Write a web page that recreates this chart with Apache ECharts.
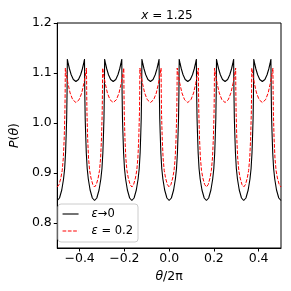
<!DOCTYPE html>
<html>
<head>
<meta charset="utf-8">
<script src="https://cdn.jsdelivr.net/npm/echarts@6/dist/echarts.min.js"></script>
<style>html,body{margin:0;padding:0;background:#fff}#c{width:291px;height:291px}</style>
</head>
<body>
<div id="c"></div>
<script>
// theta/2pi values and P(theta) for epsilon -> 0 (black)
const blackX = [
-0.5,-0.49,-0.48,-0.472,-0.467,-0.463,-0.46,-0.458,-0.4563,-0.455,-0.4512,-0.4454,-0.4378,-0.4282,-0.4167,-0.4052,-0.3956,-0.388,-0.3822,-0.3784,-0.377,-0.3753,-0.3733,-0.3703,-0.3663,-0.3613,-0.3533,-0.3433,
-0.3333,-0.3233,-0.3133,-0.3053,-0.3003,-0.2963,-0.2933,-0.2913,-0.2896,-0.2883,-0.2845,-0.2787,-0.2711,-0.2615,-0.25,-0.2385,-0.2289,-0.2213,-0.2155,-0.2117,-0.2103,-0.2086,-0.2066,-0.2036,-0.1996,-0.1946,-0.1866,-0.1766,
-0.1667,-0.1567,-0.1467,-0.1387,-0.1337,-0.1297,-0.1267,-0.1247,-0.123,-0.1217,-0.1179,-0.1121,-0.1045,-0.0949,-0.0834,-0.0719,-0.0623,-0.0547,-0.0489,-0.0451,-0.0437,-0.042,-0.04,-0.037,-0.033,-0.028,-0.02,-0.01,
0,0.01,0.02,0.028,0.033,0.037,0.04,0.042,0.0437,0.045,0.0488,0.0546,0.0622,0.0718,0.0833,0.0948,0.1044,0.112,0.1178,0.1216,0.123,0.1247,0.1267,0.1297,0.1337,0.1387,0.1467,0.1567,
0.1667,0.1767,0.1867,0.1947,0.1997,0.2037,0.2067,0.2087,0.2104,0.2117,0.2155,0.2213,0.2289,0.2385,0.25,0.2615,0.2711,0.2787,0.2845,0.2883,0.2897,0.2914,0.2934,0.2964,0.3004,0.3054,0.3134,0.3234,
0.3333,0.3433,0.3533,0.3613,0.3663,0.3703,0.3733,0.3753,0.377,0.3783,0.3821,0.3879,0.3955,0.4051,0.4166,0.4281,0.4377,0.4453,0.4511,0.4549,0.4563,0.458,0.46,0.463,0.467,0.472,0.48,0.49,
0.5];
const blackY = [
0.845,0.850,0.866,0.888,0.909,0.940,0.980,1.010,1.060,1.128,1.119,1.108,1.0965,1.087,1.083,1.087,1.0965,1.108,1.119,1.128,1.060,1.010,0.980,0.940,0.909,0.888,0.866,0.850,
0.845,0.850,0.866,0.888,0.909,0.940,0.980,1.010,1.060,1.128,1.119,1.108,1.0965,1.087,1.083,1.087,1.0965,1.108,1.119,1.128,1.060,1.010,0.980,0.940,0.909,0.888,0.866,0.850,
0.845,0.850,0.866,0.888,0.909,0.940,0.980,1.010,1.060,1.128,1.119,1.108,1.0965,1.087,1.083,1.087,1.0965,1.108,1.119,1.128,1.060,1.010,0.980,0.940,0.909,0.888,0.866,0.850,
0.845,0.850,0.866,0.888,0.909,0.940,0.980,1.010,1.060,1.128,1.119,1.108,1.0965,1.087,1.083,1.087,1.0965,1.108,1.119,1.128,1.060,1.010,0.980,0.940,0.909,0.888,0.866,0.850,
0.845,0.850,0.866,0.888,0.909,0.940,0.980,1.010,1.060,1.128,1.119,1.108,1.0965,1.087,1.083,1.087,1.0965,1.108,1.119,1.128,1.060,1.010,0.980,0.940,0.909,0.888,0.866,0.850,
0.845,0.850,0.866,0.888,0.909,0.940,0.980,1.010,1.060,1.128,1.119,1.108,1.0965,1.087,1.083,1.087,1.0965,1.108,1.119,1.128,1.060,1.010,0.980,0.940,0.909,0.888,0.866,0.850,
0.845];
// epsilon = 0.2 (red dashed)
const redX = [
-0.5,-0.492,-0.484,-0.478,-0.473,-0.469,-0.466,-0.4648,-0.464,-0.4593,-0.4522,-0.4427,-0.4309,-0.4167,-0.4025,-0.3907,-0.3812,-0.3741,-0.3694,-0.3685,-0.3673,-0.3643,-0.3603,-0.3553,-0.3493,-0.3413,
-0.3333,-0.3253,-0.3173,-0.3113,-0.3063,-0.3023,-0.2993,-0.2981,-0.2973,-0.2926,-0.2855,-0.276,-0.2642,-0.25,-0.2358,-0.224,-0.2145,-0.2074,-0.2027,-0.2018,-0.2006,-0.1976,-0.1936,-0.1886,-0.1826,-0.1746,
-0.1667,-0.1587,-0.1507,-0.1447,-0.1397,-0.1357,-0.1327,-0.1315,-0.1307,-0.126,-0.1189,-0.1094,-0.0976,-0.0834,-0.0692,-0.0574,-0.0479,-0.0408,-0.0361,-0.0352,-0.034,-0.031,-0.027,-0.022,-0.016,-0.008,
0,0.008,0.016,0.022,0.027,0.031,0.034,0.0352,0.036,0.0407,0.0478,0.0573,0.0691,0.0833,0.0975,0.1093,0.1188,0.1259,0.1306,0.1315,0.1327,0.1357,0.1397,0.1447,0.1507,0.1587,
0.1667,0.1747,0.1827,0.1887,0.1937,0.1977,0.2007,0.2019,0.2027,0.2074,0.2145,0.224,0.2358,0.25,0.2642,0.276,0.2855,0.2926,0.2973,0.2982,0.2994,0.3024,0.3064,0.3114,0.3174,0.3254,
0.3333,0.3413,0.3493,0.3553,0.3603,0.3643,0.3673,0.3685,0.3693,0.374,0.3811,0.3906,0.4024,0.4166,0.4308,0.4426,0.4521,0.4592,0.4639,0.4648,0.466,0.469,0.473,0.478,0.484,0.492,
0.5];
const redY = [
0.872,0.877,0.890,0.905,0.930,0.970,1.020,1.060,1.110,1.096,1.079,1.060,1.0465,1.041,1.0465,1.060,1.079,1.096,1.110,1.060,1.020,0.970,0.930,0.905,0.890,0.877,
0.872,0.877,0.890,0.905,0.930,0.970,1.020,1.060,1.110,1.096,1.079,1.060,1.0465,1.041,1.0465,1.060,1.079,1.096,1.110,1.060,1.020,0.970,0.930,0.905,0.890,0.877,
0.872,0.877,0.890,0.905,0.930,0.970,1.020,1.060,1.110,1.096,1.079,1.060,1.0465,1.041,1.0465,1.060,1.079,1.096,1.110,1.060,1.020,0.970,0.930,0.905,0.890,0.877,
0.872,0.877,0.890,0.905,0.930,0.970,1.020,1.060,1.110,1.096,1.079,1.060,1.0465,1.041,1.0465,1.060,1.079,1.096,1.110,1.060,1.020,0.970,0.930,0.905,0.890,0.877,
0.872,0.877,0.890,0.905,0.930,0.970,1.020,1.060,1.110,1.096,1.079,1.060,1.0465,1.041,1.0465,1.060,1.079,1.096,1.110,1.060,1.020,0.970,0.930,0.905,0.890,0.877,
0.872,0.877,0.890,0.905,0.930,0.970,1.020,1.060,1.110,1.096,1.079,1.060,1.0465,1.041,1.0465,1.060,1.079,1.096,1.110,1.060,1.020,0.970,0.930,0.905,0.890,0.877,
0.872];
const xTicks = [-0.4, -0.2, 0.0, 0.2, 0.4];
const yTicks = [0.8, 0.9, 1.0, 1.1, 1.2];
const seriesNames = ['ε→0', 'ε = 0.2'];
const titleText = '{i|x} = 1.25';

const FONT = 'DejaVu Sans';
const fmt = v => { const s = Math.abs(v).toFixed(1); return v < -1e-9 ? '\u2212' + s : s; };
const italic = { fontStyle: 'italic', fontFamily: FONT, fontSize: 12.5, color: '#000' };

const chart = echarts.init(document.getElementById('c'), null, { renderer: 'canvas' });
chart.setOption({
  animation: false,
  backgroundColor: '#fff',
  grid: { left: 53, right: 10, top: 23, bottom: 43, show: true, borderColor: '#000', borderWidth: 1, backgroundColor: 'transparent' },
  graphic: [{
    type: 'text', x: 167, y: 16,
    style: { text: titleText, fill: '#000', fontFamily: FONT, fontSize: 12, align: 'center', verticalAlign: 'middle',
      rich: { i: { fontStyle: 'italic', fontFamily: FONT, fontSize: 12 } } }
  }],
  xAxis: {
    type: 'value', min: -0.5, max: 0.5,
    name: '{i|θ}/2π', nameLocation: 'middle', nameGap: 16,
    nameTextStyle: { fontFamily: FONT, fontSize: 12.5, color: '#000', rich: { i: italic } },
    axisLine: { show: true, onZero: false, lineStyle: { color: '#000', width: 1 } },
    axisTick: { show: true, length: 3.5, inside: false, customValues: xTicks, lineStyle: { color: '#000' } },
    axisLabel: { customValues: xTicks, formatter: fmt, margin: 4, fontFamily: FONT, fontSize: 12.5, color: '#000' },
    splitLine: { show: false }
  },
  yAxis: {
    type: 'value', min: 0.75, max: 1.2,
    name: '{i|P}({i|θ})', nameLocation: 'middle', nameGap: 31, nameRotate: 90,
    nameTextStyle: { fontFamily: FONT, fontSize: 12.5, color: '#000', rich: { i: italic } },
    axisLine: { show: true, onZero: false, lineStyle: { color: '#000', width: 1 } },
    axisTick: { show: true, length: 3.5, inside: false, customValues: yTicks, lineStyle: { color: '#000' } },
    axisLabel: { customValues: yTicks, formatter: fmt, margin: 5.5, fontFamily: FONT, fontSize: 12.5, color: '#000' },
    splitLine: { show: false }
  },
  legend: {
    orient: 'vertical', left: 58, top: 204,
    padding: [4, 5, 5, 4], itemGap: 5, itemWidth: 16, itemHeight: 13,
    backgroundColor: 'rgba(255,255,255,0.85)', borderColor: '#ccc', borderWidth: 1, borderRadius: 3,
    data: seriesNames,
    itemStyle: { opacity: 0 },
    lineStyle: { width: 1.1 },
    formatter: n => n.replace('ε', '{i|ε}'),
    textStyle: { fontFamily: FONT, fontSize: 11.5, color: '#000', padding: [0, 0, 0, 8],
      rich: { i: { fontStyle: 'italic', fontFamily: FONT, fontSize: 11.5, color: '#000' } } }
  },
  series: [
    { name: seriesNames[0], type: 'line', symbol: 'none', showSymbol: false,
      data: blackX.map((x, i) => [x, blackY[i]]),
      lineStyle: { color: '#000', width: 1.1 }, itemStyle: { color: '#000' }, z: 2 },
    { name: seriesNames[1], type: 'line', symbol: 'none', showSymbol: false,
      data: redX.map((x, i) => [x, redY[i]]),
      lineStyle: { color: '#ff0000', width: 1, type: [3.7, 1.6] }, itemStyle: { color: '#ff0000' }, z: 3 }
  ]
});
</script>
</body>
</html>
